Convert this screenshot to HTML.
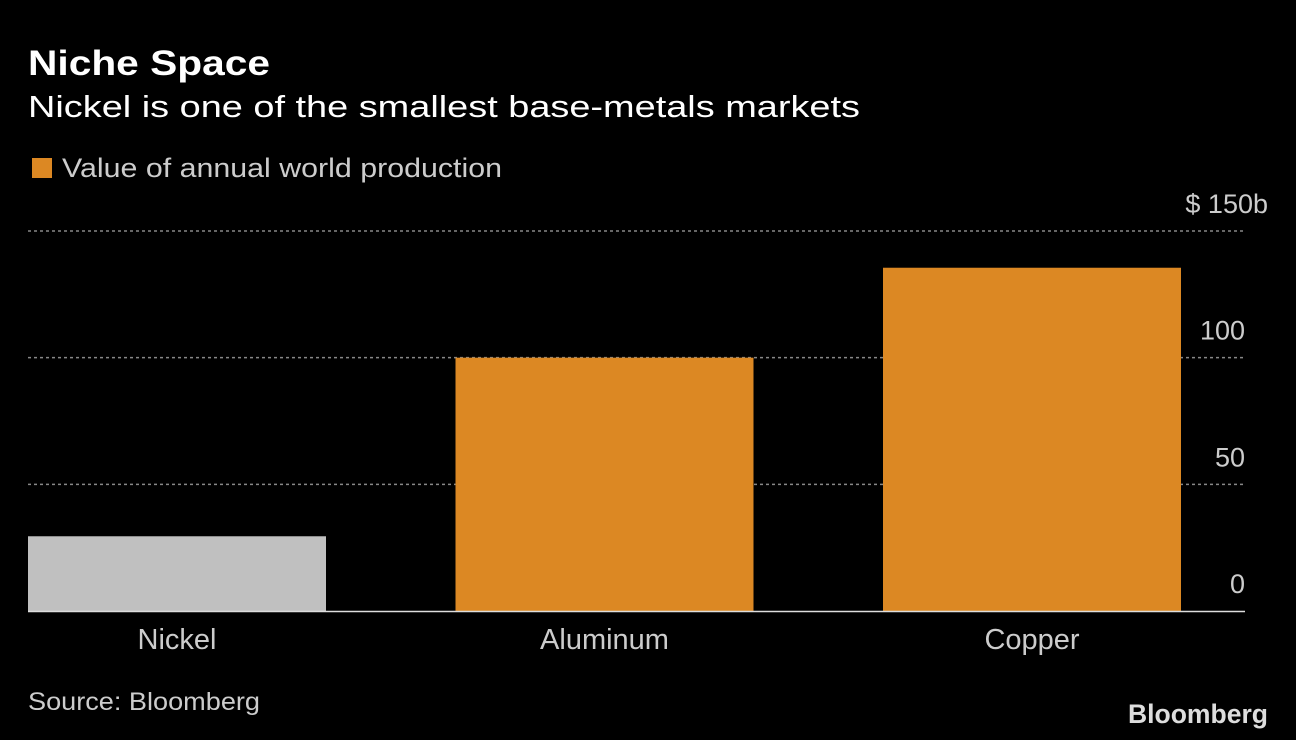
<!DOCTYPE html>
<html><head><meta charset="utf-8"><style>
html,body{margin:0;padding:0;background:#000;}
svg{display:block;font-family:"Liberation Sans","DejaVu Sans",sans-serif;}
</style></head><body>
<svg id="chart" width="1296" height="740" viewBox="0 0 1296 740">
<rect width="1296" height="740" fill="#000"/>
<text x="28" y="75" fill="#fff" font-size="35" font-weight="bold" textLength="242" lengthAdjust="spacingAndGlyphs">Niche Space</text>
<text x="28" y="117" fill="#fff" font-size="31" textLength="832" lengthAdjust="spacingAndGlyphs">Nickel is one of the smallest base-metals markets</text>
<rect x="32" y="158" width="20" height="20" fill="#dc8823"/>
<text x="62" y="177" fill="#ccc" font-size="27" textLength="440" lengthAdjust="spacingAndGlyphs">Value of annual world production</text>
<g id="grid"></g>
<g id="bars"></g>
<g id="labels"></g>
<line x1="28" x2="1245" y1="611.5" y2="611.5" stroke="#ddd" stroke-width="1.5"/>
<text x="28" y="710" fill="#ccc" font-size="25" textLength="232" lengthAdjust="spacingAndGlyphs">Source: Bloomberg</text>
<text x="1268" y="723" fill="#ddd" font-size="27" font-weight="bold" text-anchor="end" textLength="140" lengthAdjust="spacingAndGlyphs">Bloomberg</text>
</svg>
<script>
const categories = ["Nickel","Aluminum","Copper"];
const values = [29.5, 100, 135.5];
const colors = ["#c0c0c0","#dc8823","#dc8823"];
const ticks = [0,50,100,150];
const tickLabels = ["0","50","100","$ 150b"];
const NS="http://www.w3.org/2000/svg";
const y0=611, pxPer=(611-231)/150;
const y=v=>y0-v*pxPer;
const bandStart=28, bandStep=427.5, barW=298;
const x=i=>bandStart+i*bandStep;
const grid=document.getElementById('grid');
ticks.forEach((t,i)=>{
  if(t!==0){
    const l=document.createElementNS(NS,'line');
    l.setAttribute('x1',28);l.setAttribute('x2',1245);
    l.setAttribute('y1',y(t));l.setAttribute('y2',y(t));
    l.setAttribute('stroke','#888');l.setAttribute('stroke-dasharray','3,3');l.setAttribute('stroke-width','1.5');
    
    
    grid.appendChild(l);
  }
  const tx=document.createElementNS(NS,'text');
  tx.setAttribute('x',i===ticks.length-1?1268:1245);tx.setAttribute('y',y(t)-18);
  tx.setAttribute('text-anchor','end');tx.setAttribute('fill','#ccc');tx.setAttribute('font-size','27');
  tx.textContent=tickLabels[i];
  
  
  grid.appendChild(tx);
});
const bars=document.getElementById('bars'), labels=document.getElementById('labels');
categories.forEach((c,i)=>{
  const r=document.createElementNS(NS,'rect');
  r.setAttribute('x',x(i));r.setAttribute('width',barW);
  r.setAttribute('y',y(values[i]));r.setAttribute('height',y0-y(values[i]));
  r.setAttribute('fill',colors[i]);
  
  
  bars.appendChild(r);
  const t=document.createElementNS(NS,'text');
  t.setAttribute('x',x(i)+barW/2);t.setAttribute('y',649);
  t.setAttribute('text-anchor','middle');t.setAttribute('fill','#ccc');t.setAttribute('font-size','29');
  t.textContent=c;
  
  
  labels.appendChild(t);
});
</script>
</body></html>
